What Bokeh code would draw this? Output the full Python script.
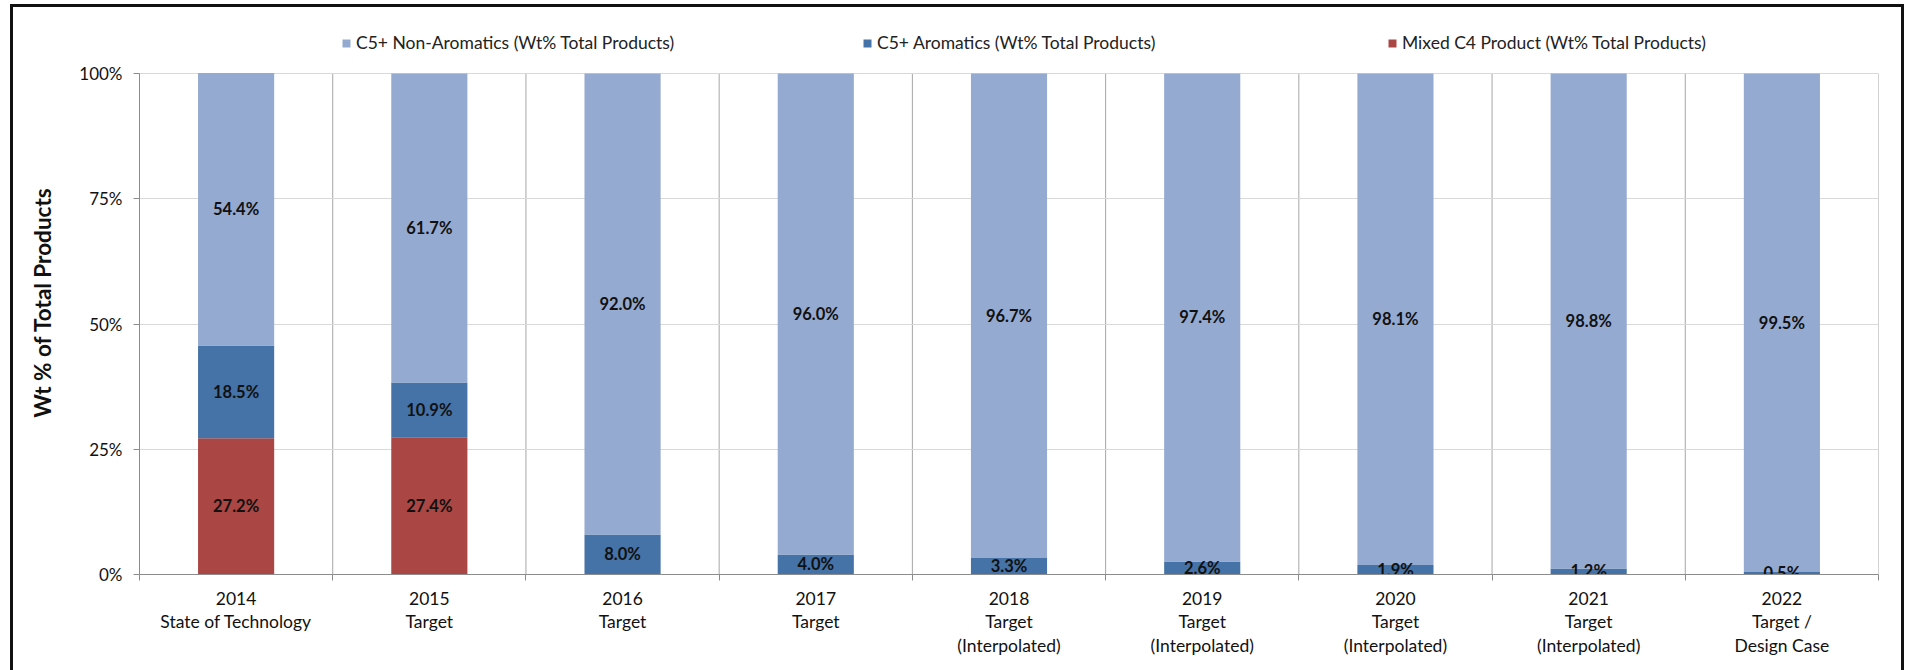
from bokeh.plotting import figure
from bokeh.models import (Range1d, FixedTicker, Legend, LegendItem, ColumnDataSource)
from bokeh.core.properties import value
from bokeh.embed import file_html
from bokeh.resources import INLINE

# ---- data ----
categories = ["2014\nState of Technology", "2015\nTarget", "2016\nTarget", "2017\nTarget",
              "2018\nTarget\n(Interpolated)", "2019\nTarget\n(Interpolated)",
              "2020\nTarget\n(Interpolated)", "2021\nTarget\n(Interpolated)",
              "2022\nTarget /\nDesign Case"]
mixed_c4 = [27.2, 27.4, 0, 0, 0, 0, 0, 0, 0]
aromatics = [18.5, 10.9, 8.0, 4.0, 3.3, 2.6, 1.9, 1.2, 0.5]
non_aromatics = [54.4, 61.7, 92.0, 96.0, 96.7, 97.4, 98.1, 98.8, 99.5]
series_names = ["C5+ Non-Aromatics (Wt% Total Products)",
                "C5+ Aromatics (Wt% Total Products)",
                "Mixed C4 Product (Wt% Total Products)"]
y_ticks = [0, 25, 50, 75, 100]
y_tick_labels = ["0%", "25%", "50%", "75%", "100%"]

C_NON = "#95AAD1"
C_ARO = "#4572A7"
C_C4 = "#AA4643"
FONT = "Lato"

n = len(categories)
centers = [i + 0.5 for i in range(n)]
bounds = list(range(n + 1))

# frame extends above 100% to host the legend (plot area 501px for 0..100)
PLOT_H = 501
EXTRA = 43
y_top = 100 + EXTRA * 100.0 / PLOT_H

src = ColumnDataSource(dict(x=centers, c4=mixed_c4, aro=aromatics, non=non_aromatics))

p = figure(output_backend="svg", toolbar_location=None,
           frame_width=1739, frame_height=PLOT_H + EXTRA,
           min_border_left=126, min_border_right=23,
           min_border_top=23, min_border_bottom=96,
           x_range=Range1d(0, n), y_range=Range1d(0, y_top))
p.styles = {"margin-left": "10px", "margin-top": "4px",
            "border": "3px solid #111111", "border-bottom": "none"}
p.outline_line_color = None
p.background_fill_color = "white"
p.border_fill_color = "white"

# category separators (vertical grid lines limited to the 0..100 range)
p.segment(x0=bounds, y0=[y_ticks[0]] * len(bounds), x1=bounds,
          y1=[y_ticks[-1]] * len(bounds), line_color="#A6A6A6", line_width=1,
          level="underlay")

r = p.vbar_stack(["c4", "aro", "non"], x="x", width=0.394, source=src,
                 color=[C_C4, C_ARO, C_NON], line_color=None)

# data labels (segment centres computed from the data)
lx, ly, lt = [], [], []
for i in range(n):
    base = 0.0
    for v in (mixed_c4[i], aromatics[i], non_aromatics[i]):
        if v > 0:
            lx.append(centers[i]); ly.append(base + v / 2.0); lt.append(f"{v:.1f}%")
        base += v
p.text(x=lx, y=ly, text=lt, text_font=value(FONT), text_font_style="bold",
       text_font_size="16.5px", text_color="#111111", text_align="center",
       text_baseline="middle")

# x axis
xa = p.xaxis[0]
xa.ticker = FixedTicker(ticks=centers, minor_ticks=bounds)
xa.major_label_overrides = {c: lab for c, lab in zip(centers, categories)}
xa.major_tick_out = 0
xa.major_tick_in = 0
xa.minor_tick_out = 6
xa.minor_tick_in = 0
xa.minor_tick_line_color = "#8C8C8C"
xa.axis_line_color = "#8C8C8C"
xa.major_label_text_font = FONT
xa.major_label_text_font_size = "17.5px"
xa.major_label_text_color = "#111111"
xa.major_label_text_line_height = 1.12
xa.major_label_standoff = 7

# y axis
ya = p.yaxis[0]
ya.ticker = FixedTicker(ticks=y_ticks)
ya.bounds = (0, 100)
ya.major_label_overrides = {t: l for t, l in zip(y_ticks, y_tick_labels)}
ya.major_tick_out = 6
ya.major_tick_in = 0
ya.minor_tick_line_color = None
ya.major_tick_line_color = "#8C8C8C"
ya.axis_line_color = "#8C8C8C"
ya.major_label_text_font = FONT
ya.major_label_text_font_size = "17px"
ya.major_label_text_color = "#111111"
ya.major_label_standoff = 11
ya.axis_label = "Wt % of Total Products"
ya.axis_label_text_font = FONT
ya.axis_label_text_font_style = "bold"
ya.axis_label_text_font_size = "22.5px"
ya.axis_label_text_color = "#111111"
ya.axis_label_standoff = 20

# grids
p.xgrid.visible = False
p.ygrid.ticker = FixedTicker(ticks=y_ticks)
p.ygrid.grid_line_color = "#D9D9D9"

# legends: one entry each, placed like the reference
legend_x = [202, 723, 1248]
for rend, name, lxp in zip([r[2], r[1], r[0]], series_names, legend_x):
    lg = Legend(items=[LegendItem(label=name, renderers=[rend])],
                location=(lxp, PLOT_H + EXTRA - 23), orientation="horizontal",
                padding=0, margin=0, glyph_width=10, glyph_height=10,
                label_standoff=5, label_height=20,
                label_text_font=FONT, label_text_font_size="17.5px",
                label_text_color="#222222", border_line_color=None,
                background_fill_alpha=0)
    p.add_layout(lg, "center")

open("out.html", "w").write(file_html(p, INLINE))
